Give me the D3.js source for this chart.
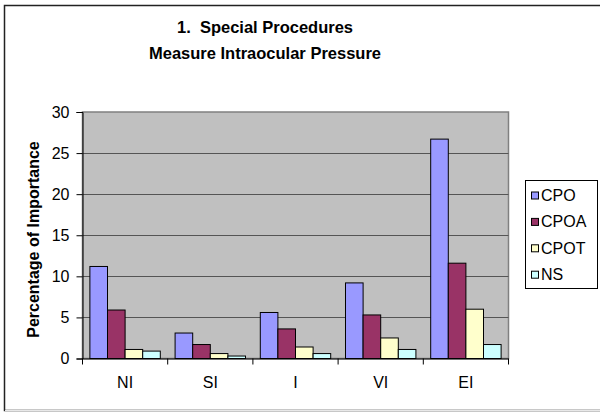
<!DOCTYPE html>
<html>
<head>
<meta charset="utf-8">
<script src="https://cdn.jsdelivr.net/npm/d3@7"></script>
<style>
  body { margin: 0; background: #fff; }
  text { font-family: "Liberation Sans", Arial, sans-serif; }
</style>
</head>
<body>
<script>
var categories = ["NI", "SI", "I", "VI", "EI"];
var seriesNames = ["CPO", "CPOA", "CPOT", "NS"];
var cpo  = [11.2, 3.1, 5.6, 9.2, 26.7];
var cpoa = [5.9, 1.7, 3.6, 5.3, 11.6];
var cpot = [1.1, 0.6, 1.4, 2.5, 6.0];
var ns   = [0.9, 0.3, 0.6, 1.1, 1.7];
var yTicks = [0, 5, 10, 15, 20, 25, 30];
var colors = ["#9999ff", "#993366", "#ffffcc", "#ccffff"];

var values = [cpo, cpoa, cpot, ns];
var width = 600, height = 412;
var fontFamily = "Liberation Sans, Arial, sans-serif";

var svg = d3.select("body").append("svg")
    .attr("width", width)
    .attr("height", height);

// chart frame
svg.append("rect")
    .attr("x", 4.5).attr("y", 5.5)
    .attr("width", 620).attr("height", 405)
    .attr("fill", "#fff")
    .attr("stroke", "#222")
    .attr("stroke-width", 1.5);
svg.append("line")
    .attr("x1", 5).attr("x2", 600)
    .attr("y1", 410.5).attr("y2", 410.5)
    .attr("stroke", "#e8e8e8");

var plot = { left: 82.5, top: 112, right: 508.5, bottom: 358.5 };

var x0 = d3.scaleBand()
    .domain(categories)
    .range([plot.left, plot.right]);

var x1 = d3.scaleBand()
    .domain(seriesNames)
    .range([0, x0.bandwidth()])
    .paddingOuter(0.42)
    .paddingInner(0);

var y = d3.scaleLinear()
    .domain([0, 30])
    .range([plot.bottom, plot.top]);

// plot background
svg.append("rect")
    .attr("x", plot.left).attr("y", plot.top)
    .attr("width", plot.right - plot.left)
    .attr("height", plot.bottom - plot.top)
    .attr("fill", "#c0c0c0")
    .attr("stroke", "#808080")
    .attr("stroke-width", 1.5);

// gridlines
svg.append("g")
    .selectAll("line")
    .data(yTicks.filter(function(d) { return d > 0 && d < 30; }))
    .enter().append("line")
    .attr("x1", plot.left).attr("x2", plot.right)
    .attr("y1", function(d) { return Math.round(y(d)) + 0.5; })
    .attr("y2", function(d) { return Math.round(y(d)) + 0.5; })
    .attr("stroke", "#555")
    .attr("stroke-width", 1.2);

// bars
var groups = svg.append("g")
    .selectAll("g")
    .data(categories)
    .enter().append("g")
    .attr("transform", function(d) { return "translate(" + x0(d) + ",0)"; });

groups.selectAll("rect")
    .data(function(c, i) {
      return seriesNames.map(function(s, j) { return { s: s, v: values[j][i], c: colors[j] }; });
    })
    .enter().append("rect")
    .attr("x", function(d) { return x1(d.s); })
    .attr("y", function(d) { return y(d.v); })
    .attr("width", x1.bandwidth())
    .attr("height", function(d) { return y(0) - y(d.v); })
    .attr("fill", function(d) { return d.c; })
    .attr("stroke", "#000")
    .attr("stroke-width", 1);

// y axis
var yAxis = svg.append("g")
    .attr("transform", "translate(" + plot.left + ",0)")
    .call(d3.axisLeft(y).tickValues(yTicks).tickSize(6).tickPadding(7));
yAxis.select(".domain").attr("stroke", "#000");
yAxis.selectAll("text")
    .attr("font-size", 16)
    .attr("fill", "#000")
    .style("font-family", fontFamily);

// x axis
var xAxis = svg.append("g")
    .attr("transform", "translate(0," + plot.bottom + ")")
    .call(d3.axisBottom(x0).tickSize(0).tickPadding(18));
xAxis.select(".domain").attr("stroke", "#000").attr("d", "M" + plot.left + ",0.5H" + plot.right);
xAxis.selectAll("text")
    .attr("font-size", 16)
    .attr("fill", "#000")
    .style("font-family", fontFamily);
svg.append("g")
    .selectAll("line")
    .data(categories.concat(["end"]))
    .enter().append("line")
    .attr("x1", function(d, i) { return plot.left + i * x0.step(); })
    .attr("x2", function(d, i) { return plot.left + i * x0.step(); })
    .attr("y1", plot.bottom)
    .attr("y2", plot.bottom + 6)
    .attr("stroke", "#000");

// axis title
svg.append("text")
    .attr("transform", "translate(39,239.5) rotate(-90)")
    .attr("text-anchor", "middle")
    .attr("font-size", 16)
    .attr("font-weight", "bold")
    .text("Percentage of Importance");

// chart title
var title = svg.append("text")
    .attr("text-anchor", "middle")
    .attr("font-size", 16.5)
    .attr("font-weight", "bold")
    .style("white-space", "pre");
title.append("tspan").attr("x", 265).attr("y", 32.5).text("1.  Special Procedures");
title.append("tspan").attr("x", 265).attr("y", 59).text("Measure Intraocular Pressure");

// legend
var legend = svg.append("g");
legend.append("rect")
    .attr("x", 525.5).attr("y", 180.5)
    .attr("width", 72).attr("height", 108)
    .attr("fill", "#fff")
    .attr("stroke", "#000");
var items = legend.selectAll("g.item")
    .data(seriesNames)
    .enter().append("g")
    .attr("class", "item")
    .attr("transform", function(d, i) { return "translate(0," + (195 + i * 26.4) + ")"; });
items.append("rect")
    .attr("x", 531.5).attr("y", -3)
    .attr("width", 7).attr("height", 7)
    .attr("fill", function(d, i) { return colors[i]; })
    .attr("stroke", "#000");
items.append("text")
    .attr("x", 541).attr("y", 0)
    .attr("dy", "0.36em")
    .attr("font-size", 16)
    .text(function(d) { return d; });
</script>
</body>
</html>
